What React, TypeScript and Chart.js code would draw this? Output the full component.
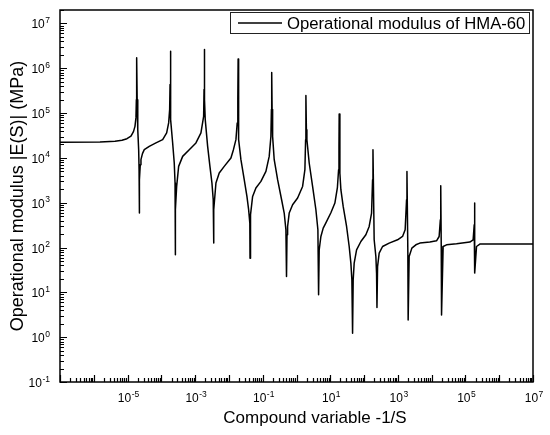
import { useEffect, useRef } from 'react';
import { Chart, registerables } from 'chart.js';

Chart.register(...registerables);

// Compound variable -1/S (x) and operational modulus |E(S)| in MPa (y)
const compoundVariable = [
  1e-7, 1.525e-6, 4.24e-6, 6.83e-6, 9.60e-6, 1.26e-5, 1.495e-5, 1.656e-5, 1.772e-5, 1.821e-5,
  1.858e-5, 1.923e-5, 2.003e-5, 2.13e-5, 2.19e-5, 2.22e-5, 2.265e-5, 2.376e-5, 2.49e-5, 2.76e-5,
  3.12e-5, 4.385e-5, 6.92e-5, 1.093e-4, 1.435e-4, 1.644e-4, 1.76e-4, 1.809e-4, 1.834e-4, 1.885e-4,
  1.923e-4, 2.16e-4, 2.408e-4, 2.542e-4, 2.577e-4, 2.63e-4, 2.836e-4, 3.25e-4, 4.27e-4, 6.69e-4,
  1.056e-3, 1.485e-3, 1.784e-3, 1.834e-3, 1.859e-3, 1.924e-3, 1.99e-3, 2.344e-3, 2.74e-3, 3.142e-3,
  3.43e-3, 3.503e-3, 3.60e-3, 4.125e-3, 5.16e-3, 7.26e-3, 1.146e-2, 1.359e-2, 1.611e-2, 1.76e-2,
  1.834e-2, 1.872e-2, 1.936e-2, 2.265e-2, 2.836e-2, 3.41e-2, 3.83e-2, 4.155e-2, 4.21e-2, 4.356e-2,
  5.025e-2, 6.29e-2, 8.85e-2, 0.1244, 0.1557, 0.1748, 0.1809, 0.1846, 0.1897, 0.1963,
  0.219, 0.276, 0.3624, 0.4327, 0.4858, 0.506, 0.5236, 0.5454, 0.6083, 0.767,
  1.078, 1.515, 1.773, 1.859, 1.898, 1.963, 2.031, 2.376, 2.995, 3.75,
  4.297, 4.507, 4.696, 5.27, 6.17, 7.41, 10.42, 13.68, 16.23, 17.6,
  18.09, 18.34, 19.23, 20.59, 24.08, 30.36, 36.25, 40.7, 43.57, 45.7,
  47.6, 50.95, 60.0, 80.4, 113.1, 141.6, 166.7, 178.5, 183.4, 199.0,
  223.4, 234.3, 240.8, 250.8, 279.8, 352.7, 552.7, 979.7, 1377, 1644,
  1809, 1859, 1976, 2017, 2159, 2596, 3408, 4477, 8846, 1.396e4,
  1.667e4, 1.81e4, 1.859e4, 1.924e4, 1.963e4, 2.189e4, 2.76e4, 5.455e4, 1.35e5, 1.69e5,
  1.821e5, 1.859e5, 1.898e5, 2.131e5, 2.668e5, 5.27e5, 1e7,
];

const operationalModulus = [
  2.23e4, 2.27e4, 2.37e4, 2.49e4, 2.69e4, 3.06e4, 3.86e4, 5.07e4, 7.93e4, 2.00e5,
  1.712e6, 2.00e5, 4.28e4, 1.529e4, 5.46e3, 589, 3.27e3, 7.07e3, 9.14e3, 1.245e4,
  1.529e4, 1.812e4, 2.16e4, 2.557e4, 3.61e4, 6.04e4, 1.197e5, 4.33e5, 2.40e6, 2.00e5,
  7.16e4, 2.16e4, 7.71e3, 2.756e3, 68.9, 698, 2.313e3, 6.48e3, 1.083e4, 1.529e4,
  2.16e4, 3.61e4, 8.48e4, 3.35e5, 2.62e6, 2.00e5, 7.16e4, 1.812e4, 6.48e3, 2.756e3,
  1.167e3, 125.8, 698, 2.756e3, 4.61e3, 6.48e3, 9.97e3, 1.529e4, 2.557e4, 6.04e4,
  2.00e5, 1.61e6, 2.557e4, 9.14e3, 3.27e3, 1.383e3, 698, 352, 58.1, 539,
  1.383e3, 2.131e3, 2.992e3, 5.005e3, 1.083e4, 3.03e4, 1.197e5, 8.04e5, 1.197e5, 3.03e4,
  9.14e3, 3.27e3, 1.167e3, 589, 249.3, 22.6, 192.8, 295.4, 589, 902,
  1.274e3, 2.313e3, 5.46e3, 2.557e4, 2.46e5, 4.28e4, 2.557e4, 7.71e3, 2.313e3, 698,
  249.3, 8.80, 89.1, 176.6, 272, 357, 598, 985, 2.164e3, 5.46e3,
  1.978e4, 9.6e4, 4.61e3, 1.953e3, 827, 295.4, 105.6, 44.9, 19.03, 1.226,
  19.03, 44.9, 89.1, 136.6, 192.8, 295.4, 589, 3.27e3, 1.529e4, 149.1,
  63.1, 26.9, 4.62, 37.7, 75.2, 105.6, 125.8, 149.1, 176.6, 249.3,
  1.167e3, 5.005e3, 75.2, 2.43, 63.1, 97.2, 115.2, 125.8, 132.4, 141.6,
  176.6, 417, 2.399e3, 105.6, 3.14, 105.6, 115.2, 121.3, 132.4, 149.1,
  322.5, 985, 26.9, 105.6, 119.5, 119.5, 119.5,
];

const xLabelExponents = [-5, -3, -1, 1, 3, 5, 7];
const yLabelExponents = [-1, 0, 1, 2, 3, 4, 5, 6, 7];
const seriesLabel = 'Operational modulus of HMA-60';
const xTitle = 'Compound variable -1/S';
const yTitle = 'Operational modulus |E(S)| (MPa)';

const FONT = '"Liberation Sans", Arial, Helvetica, sans-serif';

function drawPower(
  ctx: CanvasRenderingContext2D,
  exp: string,
  x: number,
  baseY: number,
  align: 'center' | 'right'
) {
  ctx.font = `12px ${FONT}`;
  const wb = ctx.measureText('10').width;
  ctx.font = `8.5px ${FONT}`;
  const we = ctx.measureText(exp).width;
  const total = wb + we + 0.5;
  const start = align === 'center' ? x - total / 2 : x - total;
  ctx.textAlign = 'left';
  ctx.textBaseline = 'alphabetic';
  ctx.font = `12px ${FONT}`;
  ctx.fillText('10', start, baseY);
  ctx.font = `8.5px ${FONT}`;
  ctx.fillText(exp, start + wb + 0.5, baseY - 5.5);
}

const decorations = {
  id: 'decorations',
  afterDraw(chart: any) {
    const { ctx, chartArea: a, scales } = chart;
    const xs = scales.x;
    const ys = scales.y;
    ctx.save();
    ctx.strokeStyle = '#000';
    ctx.fillStyle = '#000';

    // ticks (inward)
    ctx.lineWidth = 1.2;
    ctx.beginPath();
    for (let e = -7; e <= 7; e++) {
      for (let m = 1; m <= 9; m++) {
        const v = m * Math.pow(10, e);
        if (v < xs.min * 0.999 || v > xs.max * 1.001) continue;
        const px = Math.round(xs.getPixelForValue(v)) + 0.5;
        const len = m === 1 ? 7 : 4;
        ctx.moveTo(px, a.bottom);
        ctx.lineTo(px, a.bottom - len);
      }
    }
    for (let e = -1; e <= 7; e++) {
      for (let m = 1; m <= 9; m++) {
        const v = m * Math.pow(10, e);
        if (v < ys.min * 0.999 || v > ys.max * 1.001) continue;
        const py = Math.round(ys.getPixelForValue(v)) + 0.5;
        const len = m === 1 ? 7 : 4;
        ctx.moveTo(a.left, py);
        ctx.lineTo(a.left + len, py);
      }
    }
    ctx.stroke();

    // frame
    ctx.lineWidth = 1.5;
    ctx.strokeRect(a.left, a.top, a.right - a.left, a.bottom - a.top);

    // tick labels
    for (const e of xLabelExponents) {
      const px = xs.getPixelForValue(Math.pow(10, e));
      drawPower(ctx, String(e), px + 1, a.bottom + 20, 'center');
    }
    for (const e of yLabelExponents) {
      const py = ys.getPixelForValue(Math.pow(10, e));
      drawPower(ctx, String(e), a.left - 10, py + 5, 'right');
    }

    // axis titles
    ctx.font = `17px ${FONT}`;
    ctx.textAlign = 'center';
    ctx.textBaseline = 'alphabetic';
    ctx.fillText(xTitle, 315, 423);
    ctx.save();
    ctx.translate(23, (a.top + a.bottom) / 2);
    ctx.rotate(-Math.PI / 2);
    ctx.font = `18px ${FONT}`;
    ctx.fillText(yTitle, 0, 0);
    ctx.restore();

    // legend
    const lx = 230, ly = 12, lw = 299, lh = 21;
    ctx.fillStyle = '#fff';
    ctx.fillRect(lx, ly, lw, lh);
    ctx.lineWidth = 1;
    ctx.strokeStyle = '#222';
    ctx.strokeRect(lx + 0.5, ly + 0.5, lw, lh);
    ctx.strokeStyle = '#000';
    ctx.lineWidth = 1.5;
    ctx.beginPath();
    ctx.moveTo(238, ly + lh / 2 + 0.5);
    ctx.lineTo(282, ly + lh / 2 + 0.5);
    ctx.stroke();
    ctx.fillStyle = '#000';
    ctx.font = `16.7px ${FONT}`;
    ctx.textAlign = 'left';
    ctx.fillText(seriesLabel, 287, ly + 16.5);

    ctx.restore();
  },
};

export default function App() {
  const canvasRef = useRef<HTMLCanvasElement | null>(null);

  useEffect(() => {
    if (!canvasRef.current) return;
    const points = compoundVariable.map((x, i) => ({ x, y: operationalModulus[i] }));
    const chart = new Chart(canvasRef.current, {
      type: 'line',
      data: {
        datasets: [
          {
            label: seriesLabel,
            data: points,
            borderColor: '#000',
            borderWidth: 1.5,
            pointRadius: 0,
            tension: 0,
            fill: false,
            borderJoinStyle: 'round',
          },
        ],
      },
      options: {
        animation: false,
        responsive: true,
        maintainAspectRatio: false,
        parsing: { xAxisKey: 'x', yAxisKey: 'y' },
        layout: { padding: { left: 0, top: 10, right: 17, bottom: 0 } },
        plugins: {
          legend: { display: false },
          tooltip: { enabled: false },
        },
        scales: {
          x: {
            type: 'logarithmic',
            min: 1e-7,
            max: 1e7,
            grid: { display: false },
            border: { display: false },
            ticks: { display: false },
            afterFit: (s: any) => {
              s.height = 53;
            },
          },
          y: {
            type: 'logarithmic',
            min: 0.1,
            max: 2e7,
            grid: { display: false },
            border: { display: false },
            ticks: { display: false },
            afterFit: (s: any) => {
              s.width = 60;
            },
          },
        },
      },
      plugins: [decorations],
    });
    return () => chart.destroy();
  }, []);

  return (
    <div style={{ position: 'absolute', left: 0, top: 0, width: 550, height: 435, background: '#fff' }}>
      <canvas ref={canvasRef} />
    </div>
  );
}
